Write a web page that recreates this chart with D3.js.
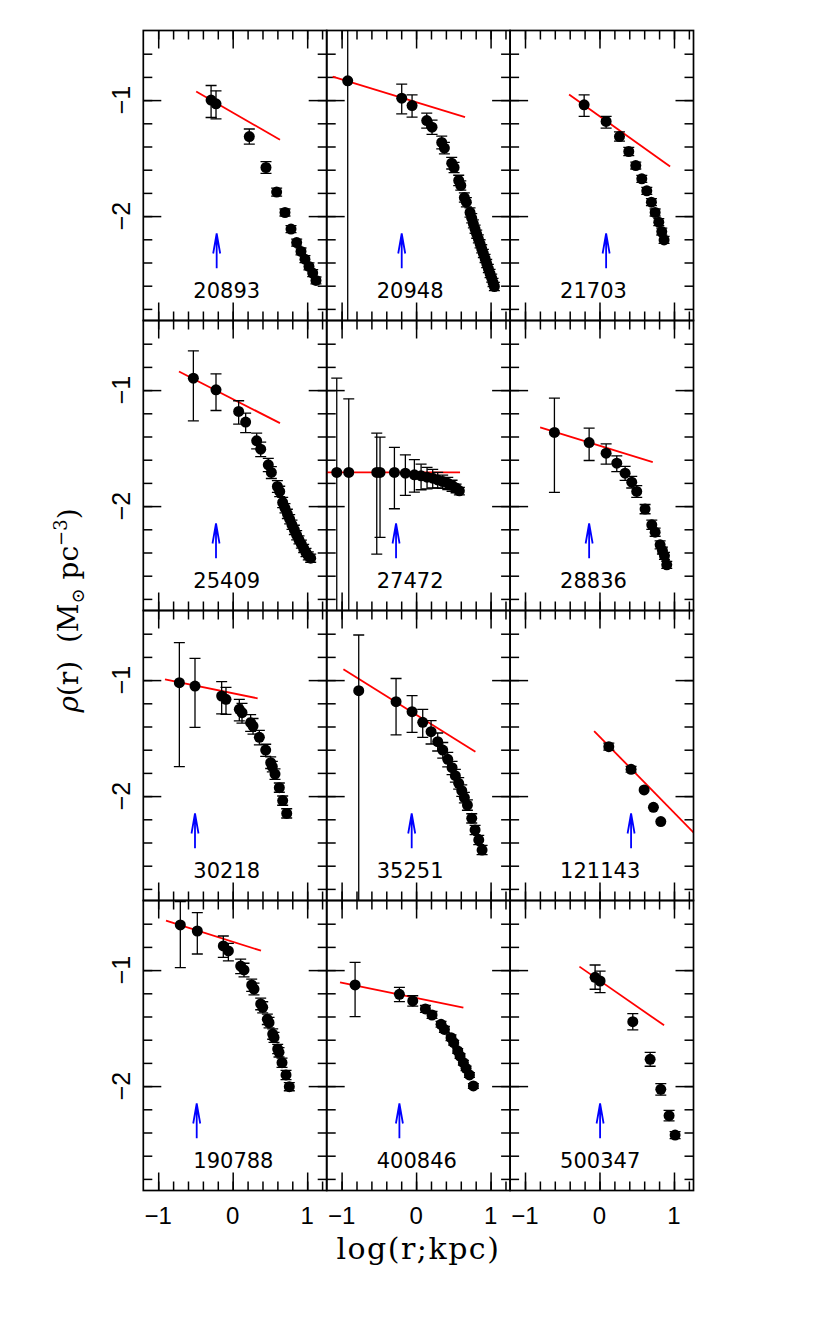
<!DOCTYPE html>
<html><head><meta charset="utf-8">
<script src="https://cdn.jsdelivr.net/npm/d3@7"></script>
<style>body{margin:0;background:#fff}</style>
</head><body>
<script>
// ---------------- DATA ----------------
const galaxies = ["20893","20948","21703","25409","27472","28836","30218","35251","121143","190788","400846","500347"];
const xTickMajor = [-1, 0, 1];
const xTickLabels = ["\u22121", "0", "1"];
const yTickMajor = [-1, -2];
const yTickLabels = ["\u22121", "\u22122"];

// arrow positions (log r, kpc)
const arrowR = [-0.215, -0.193, 0.089, -0.224, -0.269, -0.139, -0.506, -0.059, 0.424, -0.483, -0.224, 0.008];
// red fit lines: start and end points
const fitX1 = [-0.49, -1.12, -0.408, -0.721, -1.2, -0.797, -0.909, -0.976, -0.072, -0.895, -1.021, -0.269];
const fitY1 = [-0.926, -0.797, -0.952, -0.84, -1.71, -1.322, -0.993, -0.907, -1.439, -0.574, -1.106, -0.97];
const fitX2 = [0.635, 0.657, 0.948, 0.635, 0.59, 0.715, 0.335, 0.796, 1.3, 0.38, 0.635, 0.867];
const fitY2 = [-1.342, -1.147, -1.572, -1.285, -1.71, -1.621, -1.157, -1.617, -2.338, -0.833, -1.324, -1.476];

// density profiles: log r, log rho, error up, error down (dex); 9 = unbounded
const lr_20893  = [-0.29, -0.224, 0.223, 0.447, 0.59, 0.702, 0.783, 0.859, 0.917, 0.97, 1.024, 1.074, 1.118];
const rho_20893 = [-1.0, -1.032, -1.314, -1.581, -1.793, -1.969, -2.112, -2.228, -2.305, -2.371, -2.434, -2.491, -2.555];
const eu_20893  = [0.126, 0.112, 0.065, 0.05, 0.035, 0.03, 0.03, 0.03, 0.03, 0.03, 0.03, 0.03, 0.03];
const ed_20893  = [0.15, 0.129, 0.065, 0.05, 0.035, 0.03, 0.03, 0.03, 0.03, 0.03, 0.03, 0.03, 0.03];

const lr_20948  = [-0.918, -0.193, -0.054, 0.143, 0.214, 0.344, 0.38, 0.478, 0.51, 0.572, 0.6, 0.648, 0.675, 0.724, 0.747, 0.769, 0.792, 0.814, 0.836, 0.859, 0.881, 0.903, 0.926, 0.948, 0.97, 0.993, 1.015, 1.033, 1.051];
const rho_20948 = [-0.834, -0.983, -1.047, -1.176, -1.233, -1.365, -1.414, -1.544, -1.581, -1.693, -1.736, -1.84, -1.88, -1.969, -2.018, -2.067, -2.113, -2.156, -2.196, -2.239, -2.282, -2.322, -2.365, -2.409, -2.452, -2.495, -2.535, -2.572, -2.607];
const eu_20948  = [0.44, 0.121, 0.092, 0.063, 0.06, 0.055, 0.05, 0.05, 0.045, 0.045, 0.04, 0.04, 0.04, 0.04, 0.04, 0.035, 0.035, 0.035, 0.035, 0.035, 0.035, 0.035, 0.035, 0.035, 0.035, 0.035, 0.035, 0.035, 0.035];
const ed_20948  = [9, 0.135, 0.1, 0.066, 0.062, 0.055, 0.05, 0.05, 0.045, 0.045, 0.04, 0.04, 0.04, 0.04, 0.04, 0.035, 0.035, 0.035, 0.035, 0.035, 0.035, 0.035, 0.035, 0.035, 0.035, 0.035, 0.035, 0.035, 0.035];

const lr_21703  = [-0.206, 0.089, 0.268, 0.393, 0.487, 0.568, 0.635, 0.697, 0.747, 0.796, 0.836, 0.867];
const rho_21703 = [-1.041, -1.184, -1.314, -1.443, -1.564, -1.679, -1.782, -1.88, -1.969, -2.052, -2.133, -2.205];
const eu_21703  = [0.086, 0.043, 0.04, 0.035, 0.03, 0.03, 0.03, 0.03, 0.03, 0.03, 0.03, 0.03];
const ed_21703  = [0.1, 0.057, 0.04, 0.035, 0.03, 0.03, 0.03, 0.03, 0.03, 0.03, 0.03, 0.03];

const lr_25409  = [-0.528, -0.224, 0.08, 0.174, 0.322, 0.376, 0.478, 0.519, 0.6, 0.631, 0.671, 0.702, 0.734, 0.765, 0.796, 0.828, 0.859, 0.89, 0.922, 0.953, 0.984, 1.015, 1.047];
const rho_25409 = [-0.897, -0.998, -1.184, -1.276, -1.437, -1.509, -1.644, -1.71, -1.831, -1.874, -1.969, -2.018, -2.067, -2.113, -2.161, -2.205, -2.251, -2.291, -2.328, -2.365, -2.4, -2.429, -2.449];
const eu_25409  = [0.236, 0.138, 0.092, 0.078, 0.066, 0.06, 0.055, 0.05, 0.05, 0.045, 0.045, 0.04, 0.04, 0.04, 0.04, 0.04, 0.04, 0.035, 0.035, 0.035, 0.035, 0.035, 0.035];
const ed_25409  = [0.368, 0.178, 0.109, 0.09, 0.07, 0.065, 0.058, 0.052, 0.05, 0.045, 0.045, 0.04, 0.04, 0.04, 0.04, 0.04, 0.04, 0.035, 0.035, 0.035, 0.035, 0.035, 0.035];

const lr_27472  = [-1.065, -0.904, -0.528, -0.484, -0.291, -0.144, -0.023, 0.067, 0.147, 0.223, 0.29, 0.357, 0.425, 0.483, 0.537, 0.581];
const rho_27472 = [-1.71, -1.71, -1.71, -1.71, -1.71, -1.716, -1.73, -1.739, -1.751, -1.759, -1.774, -1.788, -1.802, -1.822, -1.845, -1.868];
const eu_27472  = [0.813, 0.635, 0.339, 0.305, 0.216, 0.158, 0.13, 0.1, 0.085, 0.075, 0.065, 0.055, 0.05, 0.045, 0.035, 0.03];
const ed_27472  = [9, 9, 0.704, 0.56, 0.313, 0.192, 0.15, 0.12, 0.1, 0.085, 0.07, 0.06, 0.055, 0.05, 0.04, 0.035];

const lr_28836  = [-0.605, -0.139, 0.089, 0.232, 0.344, 0.433, 0.5, 0.612, 0.702, 0.747, 0.814, 0.845, 0.872, 0.903];
const rho_28836 = [-1.365, -1.452, -1.544, -1.63, -1.716, -1.794, -1.874, -2.026, -2.161, -2.225, -2.334, -2.383, -2.429, -2.506];
const eu_28836  = [0.296, 0.124, 0.08, 0.063, 0.058, 0.05, 0.05, 0.04, 0.04, 0.035, 0.035, 0.03, 0.03, 0.03];
const ed_28836  = [0.517, 0.155, 0.095, 0.072, 0.062, 0.05, 0.05, 0.04, 0.04, 0.035, 0.035, 0.03, 0.03, 0.03];

const lr_30218  = [-0.716, -0.506, -0.148, -0.09, 0.089, 0.125, 0.241, 0.273, 0.358, 0.443, 0.51, 0.532, 0.568, 0.626, 0.671, 0.725];
const rho_30218 = [-1.022, -1.051, -1.137, -1.166, -1.252, -1.281, -1.367, -1.396, -1.493, -1.603, -1.712, -1.746, -1.81, -1.927, -2.039, -2.149];
const eu_30218  = [0.345, 0.238, 0.124, 0.103, 0.086, 0.08, 0.07, 0.065, 0.06, 0.05, 0.05, 0.045, 0.045, 0.04, 0.04, 0.04];
const ed_30218  = [0.724, 0.356, 0.155, 0.13, 0.1, 0.09, 0.075, 0.07, 0.065, 0.055, 0.05, 0.045, 0.045, 0.04, 0.04, 0.04];

const lr_35251  = [-0.77, -0.269, -0.054, 0.089, 0.201, 0.29, 0.358, 0.425, 0.483, 0.527, 0.572, 0.613, 0.648, 0.689, 0.747, 0.792, 0.841, 0.886];
const rho_35251 = [-1.091, -1.186, -1.272, -1.364, -1.445, -1.531, -1.603, -1.683, -1.755, -1.824, -1.89, -1.953, -2.013, -2.077, -2.192, -2.292, -2.378, -2.465];
const eu_35251  = [0.48, 0.2, 0.138, 0.112, 0.095, 0.075, 0.065, 0.06, 0.055, 0.055, 0.05, 0.05, 0.045, 0.045, 0.04, 0.04, 0.04, 0.04];
const ed_35251  = [9, 0.287, 0.178, 0.129, 0.106, 0.08, 0.07, 0.065, 0.06, 0.055, 0.05, 0.05, 0.045, 0.045, 0.04, 0.04, 0.04, 0.04];

const lr_121143  = [0.125, 0.424, 0.599, 0.724, 0.823];
const rho_121143 = [-1.574, -1.769, -1.947, -2.097, -2.22];
const eu_121143  = [0.03, 0.025, 0, 0, 0];
const ed_121143  = [0.03, 0.025, 0, 0, 0];

const lr_190788  = [-0.703, -0.475, -0.126, -0.058, 0.107, 0.152, 0.255, 0.286, 0.376, 0.403, 0.465, 0.488, 0.537, 0.555, 0.604, 0.622, 0.662, 0.716, 0.76];
const rho_190788 = [-0.611, -0.663, -0.792, -0.835, -0.965, -0.999, -1.128, -1.163, -1.292, -1.321, -1.424, -1.453, -1.551, -1.58, -1.68, -1.709, -1.798, -1.904, -2.005];
const eu_190788  = [0.201, 0.158, 0.086, 0.066, 0.06, 0.058, 0.05, 0.05, 0.05, 0.048, 0.045, 0.045, 0.045, 0.043, 0.04, 0.04, 0.04, 0.04, 0.035];
const ed_190788  = [0.368, 0.198, 0.098, 0.086, 0.065, 0.06, 0.055, 0.05, 0.05, 0.048, 0.045, 0.045, 0.045, 0.043, 0.04, 0.04, 0.04, 0.04, 0.035];

const lr_400846  = [-0.819, -0.224, -0.045, 0.125, 0.214, 0.335, 0.38, 0.469, 0.505, 0.559, 0.59, 0.635, 0.671, 0.716, 0.769];
const rho_400846 = [-1.128, -1.209, -1.266, -1.335, -1.387, -1.467, -1.511, -1.583, -1.626, -1.697, -1.741, -1.798, -1.847, -1.904, -1.999];
const eu_400846  = [0.195, 0.06, 0.045, 0.03, 0.03, 0.025, 0.025, 0.025, 0.02, 0.02, 0.02, 0.02, 0.02, 0.02, 0.02];
const ed_400846  = [0.273, 0.063, 0.045, 0.03, 0.03, 0.025, 0.025, 0.025, 0.02, 0.02, 0.02, 0.02, 0.02, 0.02, 0.02];

const lr_500347  = [-0.059, 0.008, 0.447, 0.68, 0.823, 0.934, 1.015];
const rho_500347 = [-1.062, -1.094, -1.445, -1.769, -2.028, -2.255, -2.422];
const eu_500347  = [0.106, 0.086, 0.07, 0.06, 0.05, 0.045, 0.03];
const ed_500347  = [0.103, 0.1, 0.07, 0.06, 0.05, 0.045, 0.03];

const profiles = {
  "20893": [lr_20893, rho_20893, eu_20893, ed_20893],
  "20948": [lr_20948, rho_20948, eu_20948, ed_20948],
  "21703": [lr_21703, rho_21703, eu_21703, ed_21703],
  "25409": [lr_25409, rho_25409, eu_25409, ed_25409],
  "27472": [lr_27472, rho_27472, eu_27472, ed_27472],
  "28836": [lr_28836, rho_28836, eu_28836, ed_28836],
  "30218": [lr_30218, rho_30218, eu_30218, ed_30218],
  "35251": [lr_35251, rho_35251, eu_35251, ed_35251],
  "121143": [lr_121143, rho_121143, eu_121143, ed_121143],
  "190788": [lr_190788, rho_190788, eu_190788, ed_190788],
  "400846": [lr_400846, rho_400846, eu_400846, ed_400846],
  "500347": [lr_500347, rho_500347, eu_500347, ed_500347]
};

// ---------------- DRAW ----------------
const W = 830, H = 1320;
const svg = d3.select("body").append("svg").attr("width", W).attr("height", H)
  .style("font-family", "'DejaVu Sans', sans-serif");

const left0 = 143.3, top0 = 30.5, pw = 183.4, ph = 290;
const x = d3.scaleLinear().domain([-1.2, 1.262]).range([0, pw]);
const y = d3.scaleLinear().domain([-2.9, -0.4]).range([ph, 0]);

const xMinor = d3.range(-10, 13, 2).map(v => v / 10);
const yMinor = d3.range(-28, -5, 2).map(v => v / 10);
const majLen = 18, minLen = 9;

galaxies.forEach((id, i) => {
  const col = i % 3, row = Math.floor(i / 3);
  const gx = left0 + col * pw, gy = top0 + row * ph;
  const g = svg.append("g").attr("transform", `translate(${gx},${gy})`);

  const clipId = "clip" + i;
  g.append("clipPath").attr("id", clipId).append("rect")
    .attr("width", pw).attr("height", ph);

  // minor and major ticks on all four sides, pointing inward
  const sides = [
    [() => d3.axisBottom(x), `translate(0,${ph})`, xMinor, xTickMajor],
    [() => d3.axisTop(x), `translate(0,0)`, xMinor, xTickMajor],
    [() => d3.axisLeft(y), `translate(0,0)`, yMinor, yTickMajor],
    [() => d3.axisRight(y), `translate(${pw},0)`, yMinor, yTickMajor]
  ];
  sides.forEach(([mk, tr, minor, major]) => {
    const a1 = g.append("g").attr("transform", tr)
      .call(mk().tickValues(minor).tickSize(-minLen).tickFormat(""));
    a1.select(".domain").remove();
    const a2 = g.append("g").attr("transform", tr)
      .call(mk().tickValues(major).tickSize(-majLen).tickFormat(""));
    a2.select(".domain").remove();
  });
  g.selectAll(".tick line").attr("stroke", "#000").attr("stroke-width", 1.5);

  const plot = g.append("g").attr("clip-path", `url(#${clipId})`);

  // red fit line
  plot.append("line")
    .attr("x1", x(fitX1[i])).attr("y1", y(fitY1[i]))
    .attr("x2", x(fitX2[i])).attr("y2", y(fitY2[i]))
    .attr("stroke", "#ff0000").attr("stroke-width", 1.8);

  const [lr, rho, eu, ed] = profiles[id];
  const pts = lr.map((v, k) => ({ r: v, d: rho[k], u: eu[k], l: ed[k] }));

  // error bars
  const eb = plot.append("g").attr("stroke", "#000").attr("stroke-width", 1.3);
  pts.forEach(p => {
    if (p.u <= 0 && p.l <= 0) return;
    const cx = x(p.r), yt = y(p.d + p.u), yb = y(p.d - p.l);
    eb.append("line").attr("x1", cx).attr("x2", cx).attr("y1", yt).attr("y2", yb);
    eb.append("line").attr("x1", cx - 5.5).attr("x2", cx + 5.5).attr("y1", yt).attr("y2", yt);
    eb.append("line").attr("x1", cx - 5.5).attr("x2", cx + 5.5).attr("y1", yb).attr("y2", yb);
  });

  // points
  plot.selectAll("circle.pt").data(pts).join("circle")
    .attr("class", "pt")
    .attr("cx", p => x(p.r)).attr("cy", p => y(p.d)).attr("r", 5.5)
    .attr("fill", "#000");

  // blue arrow
  const ax0 = x(arrowR[i]), tip = y(-2.15), tail = y(-2.45);
  g.append("path")
    .attr("d", `M${ax0},${tail}L${ax0},${tip}M${ax0 - 3.5},${tip + 20}L${ax0},${tip}L${ax0 + 3.5},${tip + 20}`)
    .attr("fill", "none").attr("stroke", "#0000ff").attr("stroke-width", 1.8);

  // galaxy label
  g.append("text").attr("x", 50).attr("y", 267)
    .attr("font-size", 21).attr("fill", "#000").text(id);

  // frame
  g.append("rect").attr("width", pw).attr("height", ph)
    .attr("fill", "none").attr("stroke", "#000").attr("stroke-width", 1.7);

  // tick labels
  if (row === 3) {
    xTickMajor.forEach((v, k) => {
      g.append("text").attr("x", x(v)).attr("y", ph + 33)
        .attr("text-anchor", "middle").attr("font-size", 24)
        .style("font-family", "'Liberation Sans', sans-serif")
        .text(xTickLabels[k]);
    });
  }
  if (col === 0) {
    yTickMajor.forEach((v, k) => {
      g.append("text")
        .attr("transform", `translate(-13,${y(v)}) rotate(-90)`)
        .attr("text-anchor", "middle").attr("font-size", 25)
        .style("font-family", "'Liberation Sans', sans-serif")
        .text(yTickLabels[k]);
    });
  }
});

// axis titles
svg.append("text")
  .attr("x", left0 + 1.5 * pw).attr("y", 1259)
  .attr("text-anchor", "middle").attr("font-size", 30)
  .style("font-family", "'DejaVu Serif', serif")
  .attr("letter-spacing", 1.5)
  .text("log(r;kpc)");

const yt = svg.append("text")
  .attr("transform", `translate(78,${top0 + 2 * ph}) rotate(-90)`)
  .attr("text-anchor", "middle").attr("font-size", 28)
  .style("font-family", "'DejaVu Serif', serif");
yt.append("tspan").attr("font-style", "italic").text("\u03C1");
yt.append("tspan").text("(r)\u00A0\u00A0(M");
yt.append("tspan").attr("font-size", 18).attr("dy", 6).text("\u2299");
yt.append("tspan").attr("dy", -6).text(" pc");
yt.append("tspan").attr("font-size", 18).attr("dy", -11).text("\u22123");
yt.append("tspan").attr("dy", 11).text(")");
</script>
</body></html>
